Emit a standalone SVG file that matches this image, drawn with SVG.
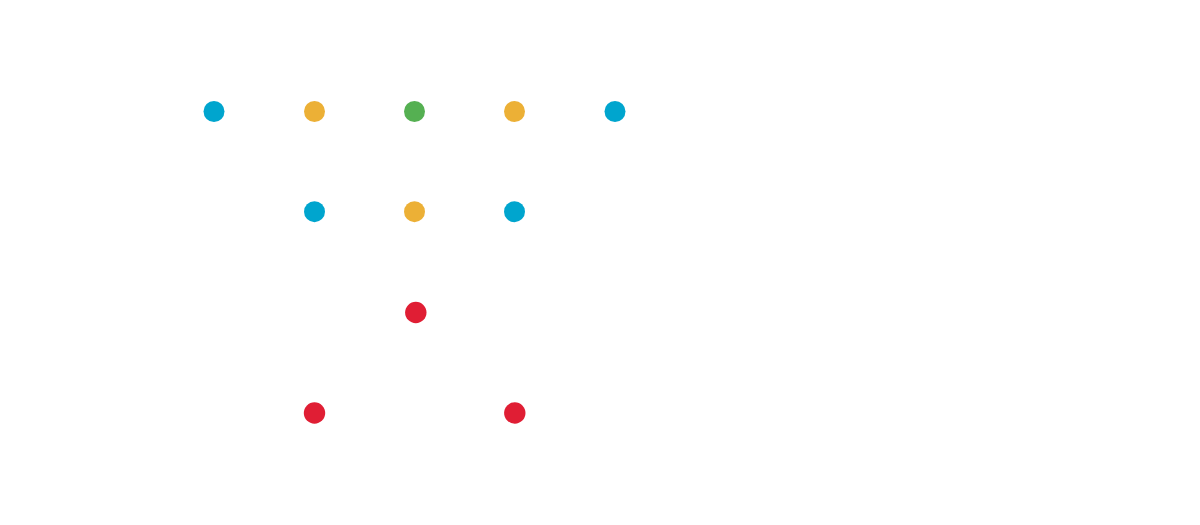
<svg xmlns="http://www.w3.org/2000/svg" width="1200" height="525" viewBox="0 0 1200 525">
<style>
.b{fill:#00A5CE}.o{fill:#ECB036}.g{fill:#55B052}.r{fill:#E01E34}
</style>
<rect width="1200" height="525" fill="#fff"/>
<g id="n1"><circle class="b" cx="214" cy="111.5" r="10.5"/></g>
<g id="n2"><circle class="o" cx="314.5" cy="111.5" r="10.5"/></g>
<g id="n3"><circle class="g" cx="414.5" cy="111.5" r="10.5"/></g>
<g id="n4"><circle class="o" cx="514.5" cy="111.5" r="10.5"/></g>
<g id="n5"><circle class="b" cx="615" cy="111.5" r="10.5"/></g>
<g id="n6"><circle class="b" cx="314.5" cy="211.7" r="10.5"/></g>
<g id="n7"><circle class="o" cx="414.5" cy="211.7" r="10.5"/></g>
<g id="n8"><circle class="b" cx="514.5" cy="211.7" r="10.5"/></g>
<g id="n9"><circle class="r" cx="415.8" cy="312.5" r="10.7"/></g>
<g id="n10"><circle class="r" cx="314.5" cy="413" r="10.7"/></g>
<g id="n11"><circle class="r" cx="514.8" cy="413" r="10.7"/></g>
<g id="connectors"></g>
</svg>
